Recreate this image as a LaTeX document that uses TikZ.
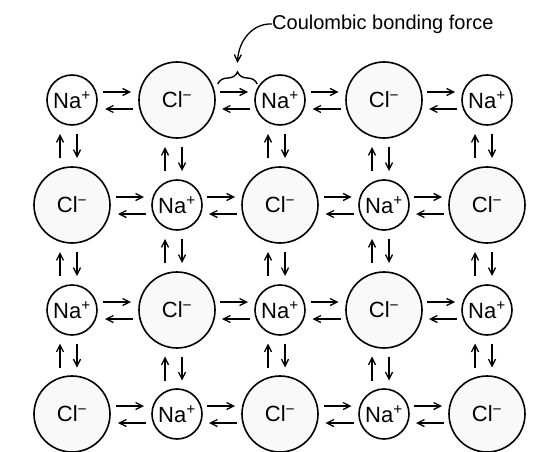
\documentclass[tikz,border=0pt]{standalone}
\usepackage{fontspec}
\setmainfont{Liberation Sans}
\usetikzlibrary{calc,decorations.pathreplacing,arrows.meta}
\begin{document}
\begin{tikzpicture}[x=1pt,y=-1pt,
  ion/.style={circle,draw,line width=1.6pt,inner sep=0pt,font=\fontsize{22}{22}\selectfont},
  na/.style={ion,minimum size=50pt,fill=white},
  cl/.style={ion,minimum size=76pt,fill=gray!5},
  force/.style={line width=1.3pt,-{Straight Barb[length=7pt,width=7pt]}},
  bracestyle/.style={line width=1.4pt,decorate,decoration={brace,amplitude=12pt}},
  lbl/.style={anchor=west,inner sep=0pt,font=\fontsize{20}{20}\selectfont}
]
\useasboundingbox (0,0) rectangle (533,452);
\foreach \r/\y in {1/100,2/205,3/310,4/414}{
  \foreach \c/\x in {1/72,2/177,3/280,4/384,5/487}{
    \pgfmathtruncatemacro{\parity}{mod(\r+\c,2)}
    \ifnum\parity=0
      \node[na] (n\r\c) at (\x,\y) {Na\textsuperscript{+}};
    \else
      \node[cl] (n\r\c) at (\x,\y) {Cl\textsuperscript{−}};
    \fi
  }
}
% horizontal force pairs
\foreach \r in {1,2,3,4}{
  \foreach \c in {1,2,3,4}{
    \pgfmathtruncatemacro{\cc}{\c+1}
    \coordinate (m) at ($(n\r\c.east)!0.5!(n\r\cc.west)$);
    \draw[force] ([shift={(-15,-8)}]m) -- ([shift={(13,-8)}]m);
    \draw[force] ([shift={(15,9)}]m) -- ([shift={(-13,9)}]m);
  }
}
% vertical force pairs
\foreach \r in {1,2,3}{
  \foreach \c in {1,2,3,4,5}{
    \pgfmathtruncatemacro{\rr}{\r+1}
    \coordinate (m) at ($(n\r\c.south)!0.5!(n\rr\c.north)$);
    \draw[force] ([shift={(-12,12)}]m) -- ([shift={(-12,-12)}]m);
    \draw[force] ([shift={(5,-12)}]m) -- ([shift={(5,12)}]m);
  }
}
% brace and label
\coordinate (ba) at ($(n12.east)+(2,-16)$);
\coordinate (bb) at ($(n13.west)+(3,-16)$);
\draw[bracestyle] (ba) -- (bb);
\coordinate (tip) at ($(ba)!0.5!(bb)+(0,-21)$);
\node[lbl] (label) at (272,24) {Coulombic bonding force};
\draw[force] (label.west) .. controls ($(label.west)+(-18,-1)$) and ($(tip)+(1,-24)$) .. (tip);
\end{tikzpicture}
\end{document}
